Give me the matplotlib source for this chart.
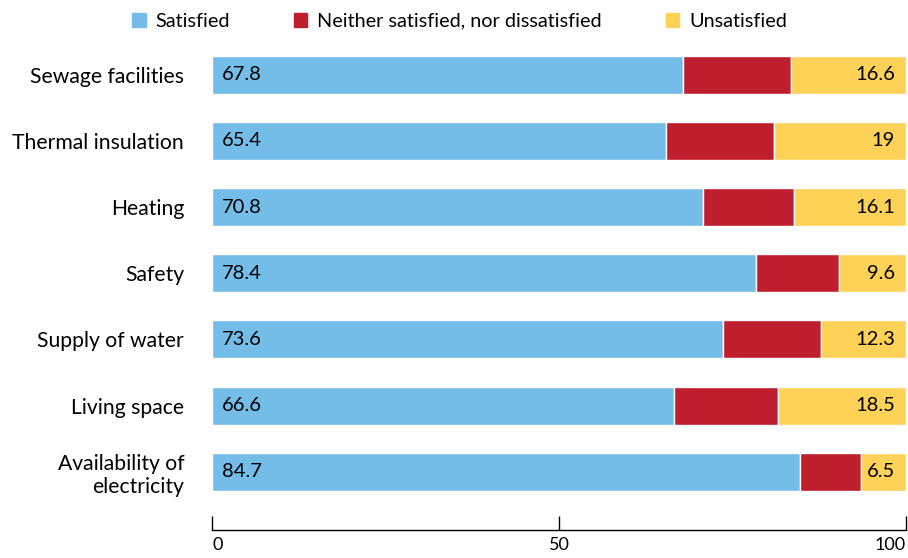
import numpy as np
import matplotlib.pyplot as plt
from matplotlib.patches import Patch

categories = ["Sewage facilities", "Thermal insulation", "Heating", "Safety",
              "Supply of water", "Living space", "Availability of\nelectricity"]
satisfied = [67.8, 65.4, 70.8, 78.4, 73.6, 66.6, 84.7]
unsatisfied = [16.6, 19, 16.1, 9.6, 12.3, 18.5, 6.5]
# middle segment is whatever is left to 100
neither = [round(100 - s - u, 1) for s, u in zip(satisfied, unsatisfied)]

c_sat = "#74bde8"
c_nei = "#be1e2d"
c_uns = "#fed256"

plt.rcParams['font.family'] = ['Lato', 'DejaVu Sans']

fig = plt.figure(figsize=(9.08, 5.58), dpi=100)
ax = fig.add_axes([0.2335, 0.0502, 0.7643, 0.8692])

y = np.arange(len(categories))
h = 0.575
ax.barh(y, satisfied, height=h, color=c_sat, edgecolor="white", linewidth=1)
ax.barh(y, neither, left=satisfied, height=h, color=c_nei, edgecolor="white", linewidth=1)
left_u = [s + n for s, n in zip(satisfied, neither)]
ax.barh(y, unsatisfied, left=left_u, height=h, color=c_uns, edgecolor="white", linewidth=1)

for i in range(len(categories)):
    ax.text(1.4, y[i], f"{satisfied[i]:g}", va="center", ha="left", fontsize=14.5)
    ax.text(98.4, y[i], f"{unsatisfied[i]:g}", va="center", ha="right", fontsize=14.5)

ax.set_xlim(0, 100)
ax.set_ylim(len(categories) - 1 + 0.88, -0.45)
ax.set_yticks(y)
ax.set_yticklabels(categories, fontsize=15.2)
ax.tick_params(axis="y", length=0, pad=20)

ax.set_xticks([0, 50, 100])
ax.set_xticklabels(["0", "50", "100"], fontsize=13)
ax.tick_params(axis="x", direction="in", length=10, width=1, pad=5)
labs = ax.get_xticklabels()
labs[0].set_ha("left")
labs[-1].set_ha("right")

for s in ["top", "right", "left"]:
    ax.spines[s].set_visible(False)
ax.spines["bottom"].set_linewidth(1)

handles = [Patch(color=c_sat, label="Satisfied"),
           Patch(color=c_nei, label="Neither satisfied, nor dissatisfied"),
           Patch(color=c_uns, label="Unsatisfied")]
fig.legend(handles=handles, loc="center", bbox_to_anchor=(0.506, 0.962), ncol=3,
           frameon=False, fontsize=14.3, handlelength=0.7, handleheight=0.7,
           handletextpad=0.5, columnspacing=3.2)

fig.savefig("out.png", dpi=100)
